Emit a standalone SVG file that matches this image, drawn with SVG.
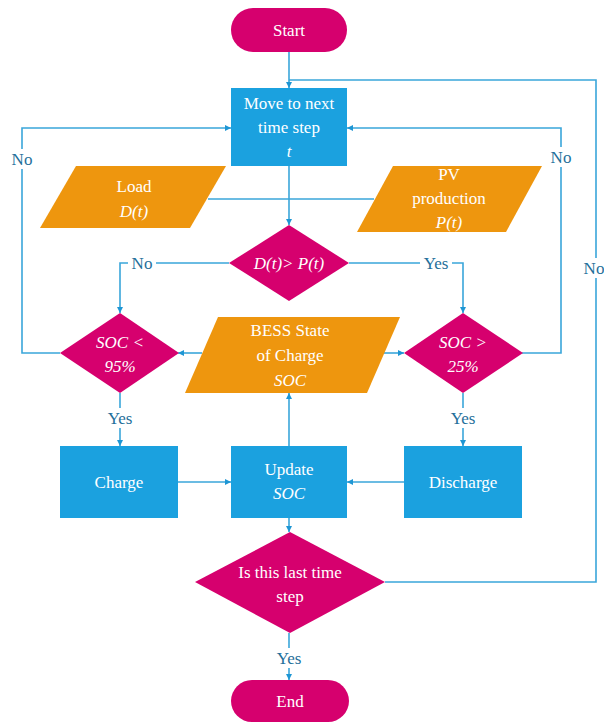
<svg xmlns="http://www.w3.org/2000/svg" width="604" height="726" viewBox="0 0 604 726">
<style>
text{font-family:'Liberation Serif','Times New Roman',serif;font-size:17px}
.t{fill:#fff;text-anchor:middle}
.i{font-style:italic}
.l{fill:#1f6f9a;text-anchor:middle}
.mag{fill:#d6006e}
.blu{fill:#1ba1df}
.org{fill:#ee960e}
.c{fill:none;stroke:#3aa6da;stroke-width:1.6}
.bg{fill:#fff}
</style>
<defs>
<marker id="a" viewBox="0 0 10 10" refX="10" refY="5" markerWidth="6" markerHeight="6" markerUnits="userSpaceOnUse" orient="auto"><path d="M0,0L10,5L0,10z" fill="#1e96d4"/></marker>
</defs>
<g id="connectors">
<path class="c" d="M289,52V88" marker-end="url(#a)"/>
<path class="c" d="M385,582H596V80H289"/>
<path class="c" d="M60,353H22V128H231" marker-end="url(#a)"/>
<path class="c" d="M522,353H561V128H347" marker-end="url(#a)"/>
<path class="c" d="M208,199H374"/>
<path class="c" d="M289,166V225" marker-end="url(#a)"/>
<path class="c" d="M229,263H120V313" marker-end="url(#a)"/>
<path class="c" d="M349,263H463V313" marker-end="url(#a)"/>
<path class="c" d="M202,353H178" marker-end="url(#a)"/>
<path class="c" d="M382,353H404" marker-end="url(#a)"/>
<path class="c" d="M120,393V446" marker-end="url(#a)"/>
<path class="c" d="M463,393V446" marker-end="url(#a)"/>
<path class="c" d="M178,482H231" marker-end="url(#a)"/>
<path class="c" d="M404,482H347" marker-end="url(#a)"/>
<path class="c" d="M289,446V393" marker-end="url(#a)"/>
<path class="c" d="M289,518V532" marker-end="url(#a)"/>
<path class="c" d="M289,633V680" marker-end="url(#a)"/>
<rect class="bg" x="8" y="149" width="28" height="20"/>
<text class="l" x="22" y="165">No</text>
<rect class="bg" x="547" y="147" width="28" height="20"/>
<text class="l" x="561" y="163">No</text>
<rect class="bg" x="582" y="258" width="28" height="20"/>
<text class="l" x="594" y="274">No</text>
<rect class="bg" x="128" y="254" width="28" height="18"/>
<text class="l" x="142" y="269">No</text>
<rect class="bg" x="420" y="254" width="32" height="18"/>
<text class="l" x="436" y="269">Yes</text>
<rect class="bg" x="104" y="408" width="32" height="20"/>
<text class="l" x="120" y="424">Yes</text>
<rect class="bg" x="447" y="408" width="32" height="20"/>
<text class="l" x="463" y="424">Yes</text>
<rect class="bg" x="273" y="648" width="32" height="20"/>
<text class="l" x="289" y="664">Yes</text>
</g>
<g id="start"><rect class="mag" x="231" y="8" width="116" height="44" rx="22"/><text class="t" x="289" y="36">Start</text></g>
<g id="move"><rect class="blu" x="231" y="88" width="116" height="78"/><text class="t" x="289" y="109">Move to next</text><text class="t" x="289" y="133">time step</text><text class="t i" x="289" y="157">t</text></g>
<g id="load"><polygon class="org" points="76,166 226,166 190,228 40,228"/><text class="t" x="134" y="192">Load</text><text class="t i" x="134" y="217">D(t)</text></g>
<g id="pv"><polygon class="org" points="393,166 542,166 506,232 357,232"/><text class="t" x="449" y="180">PV</text><text class="t" x="449" y="204">production</text><text class="t i" x="449" y="228">P(t)</text></g>
<g id="cmp"><polygon class="mag" points="289,225 349,263 289,301 229,263"/><text class="t i" x="289" y="269">D(t)&gt; P(t)</text></g>
<g id="socl"><polygon class="mag" points="120,313 179,353 120,393 60,353"/><text class="t i" x="120" y="348">SOC &lt;</text><text class="t i" x="120" y="372">95%</text></g>
<g id="bess"><polygon class="org" points="218,317 400,317 367,393 185,393"/><text class="t" x="290" y="336">BESS State</text><text class="t" x="290" y="361">of Charge</text><text class="t i" x="290" y="386">SOC</text></g>
<g id="socg"><polygon class="mag" points="463,313 523,353 463,393 404,353"/><text class="t i" x="463" y="348">SOC &gt;</text><text class="t i" x="463" y="372">25%</text></g>
<g id="charge"><rect class="blu" x="60" y="446" width="118" height="72"/><text class="t" x="119" y="488">Charge</text></g>
<g id="update"><rect class="blu" x="231" y="446" width="116" height="72"/><text class="t" x="289" y="475">Update</text><text class="t i" x="289" y="499">SOC</text></g>
<g id="discharge"><rect class="blu" x="404" y="446" width="118" height="72"/><text class="t" x="463" y="488">Discharge</text></g>
<g id="last"><polygon class="mag" points="290,532 385,582 290,633 195,582"/><text class="t" x="290" y="578">Is this last time</text><text class="t" x="290" y="602">step</text></g>
<g id="end"><rect class="mag" x="231" y="680" width="118" height="42" rx="21"/><text class="t" x="290" y="707">End</text></g>
</svg>
